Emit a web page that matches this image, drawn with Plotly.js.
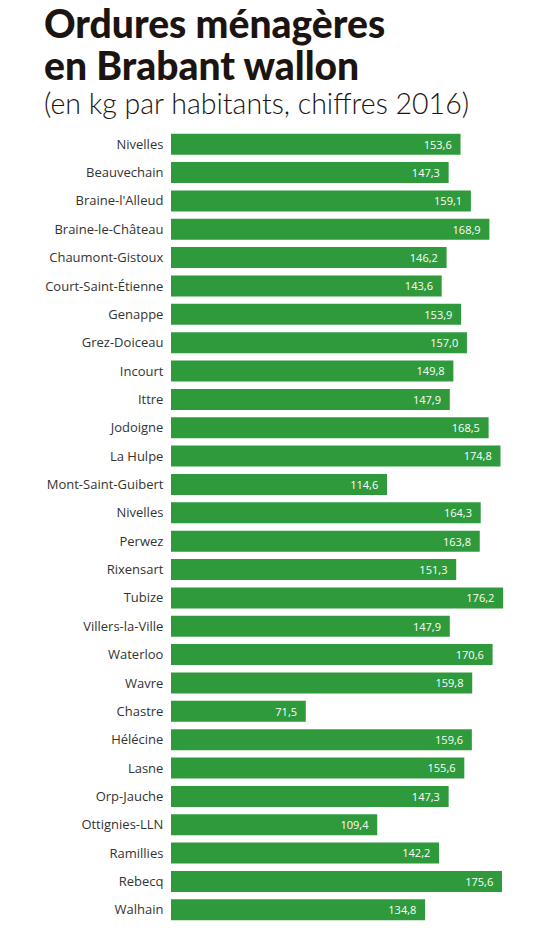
<!DOCTYPE html>
<html>
<head>
<meta charset="utf-8">
<script src="https://cdn.plot.ly/plotly-3.0.1.min.js"></script>
<style>html,body{margin:0;padding:0;background:#fff;}#chart{width:545px;height:928px;}</style>
</head>
<body>
<div id="chart"></div>
<script>
const communes = ["Nivelles","Beauvechain","Braine-l'Alleud","Braine-le-Château","Chaumont-Gistoux","Court-Saint-Étienne","Genappe","Grez-Doiceau","Incourt","Ittre","Jodoigne","La Hulpe","Mont-Saint-Guibert","Nivelles","Perwez","Rixensart","Tubize","Villers-la-Ville","Waterloo","Wavre","Chastre","Hélécine","Lasne","Orp-Jauche","Ottignies-LLN","Ramillies","Rebecq","Walhain"];
const kgParHabitant = [153.6,147.3,159.1,168.9,146.2,143.6,153.9,157.0,149.8,147.9,168.5,174.8,114.6,164.3,163.8,151.3,176.2,147.9,170.6,159.8,71.5,159.6,155.6,147.3,109.4,142.2,175.6,134.8];
const titleLine1 = 'Ordures ménagères';
const titleLine2 = 'en Brabant wallon';
const subtitle = '(en kg par habitants, chiffres 2016)';
const positions = communes.map((c, i) => i);

const W = 545, H = 928;
const mL = 171, mR = 20, mT = 130, mB = 4;
const plotW = W - mL - mR;
const plotH = H - mT - mB;
const px2x = p => (p - mL) / plotW;
const px2y = p => 1 + (mT - p) / plotH;

const trace = {
  type: 'bar',
  orientation: 'h',
  x: kgParHabitant,
  y: positions,
  marker: {color: '#2e9a3c', line: {width: 0}},
  texttemplate: '%{x:.1f}\u00a0\u00a0',
  textposition: 'inside',
  insidetextanchor: 'end',
  textangle: 0,
  insidetextfont: {family: 'Open Sans, sans-serif', size: 14, color: '#ffffff'},
  cliponaxis: false,
  hoverinfo: 'skip'
};

const titleFont = {family: 'Lato, sans-serif', size: 39, color: '#1c1410', weight: 900};

const layout = {
  width: W, height: H,
  margin: {l: mL, r: mR, t: mT, b: mB},
  paper_bgcolor: '#ffffff',
  plot_bgcolor: '#ffffff',
  separators: ', ',
  bargap: 0.26,
  showlegend: false,
  font: {family: 'Open Sans, sans-serif', color: '#333333'},
  annotations: [
    {
      text: titleLine1,
      xref: 'paper', yref: 'paper',
      x: px2x(43), xanchor: 'left',
      y: px2y(23), yanchor: 'middle',
      showarrow: false, font: titleFont, borderpad: 0
    },
    {
      text: titleLine2,
      xref: 'paper', yref: 'paper',
      x: px2x(43), xanchor: 'left',
      y: px2y(65.5), yanchor: 'middle',
      showarrow: false, font: titleFont, borderpad: 0
    },
    {
      text: subtitle,
      xref: 'paper', yref: 'paper',
      x: px2x(43), xanchor: 'left',
      y: px2y(103), yanchor: 'middle',
      showarrow: false, borderpad: 0,
      font: {family: 'Lato, sans-serif', size: 28.5, color: '#1c1410', weight: 300}
    }
  ],
  xaxis: {
    range: [0, plotW / 1.885],
    showgrid: false, zeroline: false, showticklabels: false, showline: false, ticks: ''
  },
  yaxis: {
    range: [27.5, -0.5],
    tickmode: 'array',
    tickvals: positions,
    ticktext: communes,
    showgrid: false, zeroline: false, showline: false,
    ticks: 'outside', ticklen: 4, tickcolor: 'rgba(0,0,0,0)',
    tickfont: {family: 'Open Sans, sans-serif', size: 13, color: '#333333'}
  }
};

Plotly.newPlot('chart', [trace], layout, {displayModeBar: false, staticPlot: true});
</script>
</body>
</html>
